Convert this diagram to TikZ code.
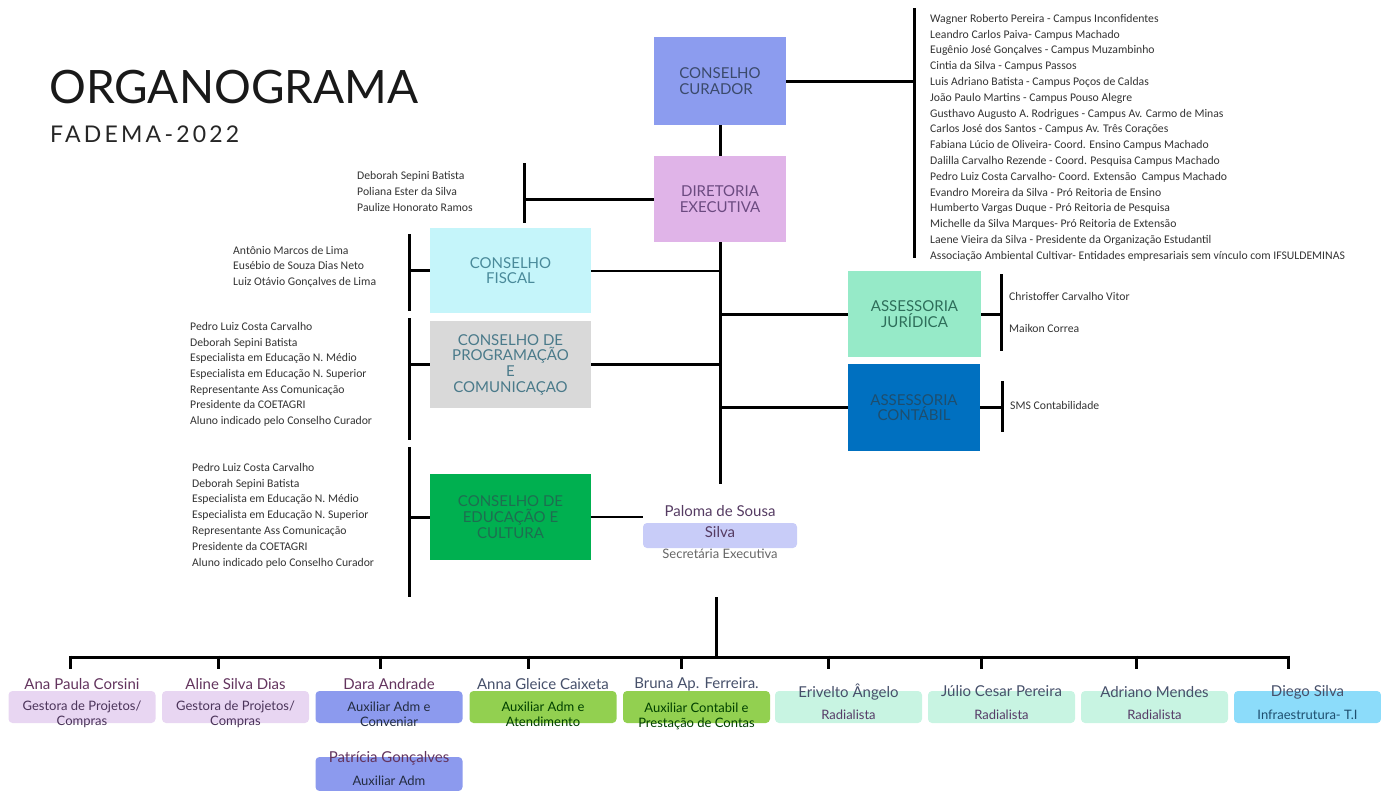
\documentclass[tikz,border=0pt]{standalone}
\usepackage{fontspec}
\setmainfont{Carlito}
\newfontfamily\boxfont{Lato}
\newfontfamily\yearfont[LetterSpace=14]{Lato}
\usepackage{xcolor}
\usetikzlibrary{positioning,calc}

\definecolor{curadorfill}{HTML}{8C9CEF}
\definecolor{curadortext}{HTML}{3B4A6B}
\definecolor{diretoriafill}{HTML}{E0B4E8}
\definecolor{diretoriatext}{HTML}{6B4A80}
\definecolor{fiscalfill}{HTML}{C5F5FA}
\definecolor{fiscaltext}{HTML}{4A8A9A}
\definecolor{progfill}{HTML}{D9D9D9}
\definecolor{progtext}{HTML}{4A7A8A}
\definecolor{edufill}{HTML}{00B050}
\definecolor{edutext}{HTML}{1E6E50}
\definecolor{jurfill}{HTML}{96EAC8}
\definecolor{jurtext}{HTML}{2E6E5A}
\definecolor{contfill}{HTML}{0070C0}
\definecolor{conttext}{HTML}{1E4E6E}
\definecolor{secfill}{HTML}{C8CCF8}
\definecolor{gestfill}{HTML}{E8D6F2}
\definecolor{auxfill}{HTML}{8C9AEE}
\definecolor{greenfill}{HTML}{92D050}
\definecolor{radfill}{HTML}{C8F4E2}
\definecolor{tifill}{HTML}{8CDCFA}
\definecolor{listgray}{HTML}{333333}
\definecolor{namegray}{HTML}{46506A}

\begin{document}
\begin{tikzpicture}[x=1pt, y=-1pt,
    unit/.style={minimum width=132pt, minimum height=86pt, inner sep=2pt, align=center,
        font=\boxfont\fontsize{15}{15.7}\selectfont},
    link/.style={line width=3pt},
    thinlink/.style={line width=2pt},
    members/.style={anchor=north west, inner sep=0pt, align=left, text=listgray,
        font=\fontsize{11.7}{15.8}\selectfont},
    card/.style={rounded corners=4pt, minimum width=147pt, minimum height=32pt, inner sep=0pt},
    pname/.style={inner sep=0pt, text=namegray, font=\boxfont\fontsize{15}{16}\selectfont},
    prole/.style={inner sep=0pt, align=center, font=\boxfont\fontsize{13}{15}\selectfont}]
    \useasboundingbox (0,0) rectangle (1381,790);

    % Title
    \node[anchor=west, inner sep=0pt, text=black!90, font=\boxfont\fontsize{46}{46}\selectfont] (title) at (49,87) {ORGANOGRAMA};
    \node[anchor=west, inner sep=0pt, text=black!85, font=\yearfont\fontsize{23}{23}\selectfont] (year) at (50,134) {FADEMA-2022};

    % Main boxes
    \node[unit, fill=curadorfill, text=curadortext, minimum height=88pt, align=left] (cur) at (720,81) {CONSELHO\\CURADOR};
    \node[unit, fill=diretoriafill, text=diretoriatext] (dir) at (720,199) {DIRETORIA\\EXECUTIVA};
    \node[unit, fill=fiscalfill, text=fiscaltext, minimum width=161pt, minimum height=85pt] (fis) at (510.5,270.5) {CONSELHO\\FISCAL};
    \node[unit, fill=progfill, text=progtext, minimum width=161pt, minimum height=87pt] (prog) at (510.5,364.5) {CONSELHO DE\\PROGRAMAÇÃO\\E\\COMUNICAÇAO};
    \node[unit, fill=edufill, text=edutext, minimum width=161pt] (edu) at (510.5,517) {CONSELHO DE\\EDUCAÇÃO E\\CULTURA};
    \node[unit, fill=jurfill, text=jurtext, minimum width=133pt] (jur) at (914.5,314) {ASSESSORIA\\JURÍDICA};
    \node[unit, fill=contfill, text=conttext, minimum height=87pt] (cont) at (914,407.5) {ASSESSORIA\\CONTÁBIL};

    % Conselho Curador members
    \node[members] (curlist) at (930,14) {Wagner Roberto Pereira - Campus Inconfidentes\\
        Leandro Carlos Paiva- Campus Machado\\
        Eugênio José Gonçalves - Campus Muzambinho\\
        Cintia da Silva - Campus Passos\\
        Luis Adriano Batista - Campus Poços de Caldas\\
        João Paulo Martins - Campus Pouso Alegre\\
        Gusthavo Augusto A. Rodrigues - Campus Av. Carmo de Minas\\
        Carlos José dos Santos - Campus Av. Três Corações\\
        Fabiana Lúcio de Oliveira- Coord. Ensino Campus Machado\\
        Dalilla Carvalho Rezende - Coord. Pesquisa Campus Machado\\
        Pedro Luiz Costa Carvalho- Coord. Extensão\ \ Campus Machado\\
        Evandro Moreira da Silva - Pró Reitoria de Ensino\\
        Humberto Vargas Duque - Pró Reitoria de Pesquisa\\
        Michelle da Silva Marques- Pró Reitoria de Extensão\\
        Laene Vieira da Silva - Presidente da Organização Estudantil\\
        Associação Ambiental Cultivar- Entidades empresariais sem vínculo com IFSULDEMINAS};
    \coordinate (curtop) at (914,8);
    \coordinate (curbot) at (914,258);
    \draw[link] (curtop) -- (curbot);
    \draw[link] (cur.east) -- (cur.east -| curtop);

    % Diretoria members
    \node[members, font=\fontsize{11.7}{16}\selectfont] (dirlist) at (357,171) {Deborah Sepini Batista\\Poliana Ester da Silva\\Paulize Honorato Ramos};
    \coordinate (dirtop) at (524,163);
    \coordinate (dirbot) at (524,223);
    \draw[link] (dirtop) -- (dirbot);
    \draw[link] (dir.west) -- (dir.west -| dirtop);
    \draw[link] (cur.south) -- (dir.north);

    % Conselho Fiscal members
    \node[members, font=\fontsize{11.7}{15.5}\selectfont] (fislist) at (233,246) {Antônio Marcos de Lima\\Eusébio de Souza Dias Neto\\Luiz Otávio Gonçalves de Lima};
    \coordinate (fistop) at (409,234);
    \coordinate (fisbot) at (409,311);
    \draw[link] (fistop) -- (fisbot);
    \draw[link] (fis.west) -- (fis.west -| fistop);

    % Programacao members
    \node[members, font=\fontsize{11.7}{15.7}\selectfont] (proglist) at (190,322) {Pedro Luiz Costa Carvalho\\Deborah Sepini Batista\\Especialista em Educação N. Médio\\Especialista em Educação N. Superior\\Representante Ass Comunicação\\Presidente da COETAGRI\\Aluno indicado pelo Conselho Curador};
    \coordinate (progtop) at (409,318);
    \coordinate (progbot) at (409,440);
    \draw[link] (progtop) -- (progbot);
    \draw[link] (prog.west) -- (prog.west -| progtop);

    % Educacao members
    \node[members, font=\fontsize{11.7}{15.8}\selectfont] (edulist) at (192,463) {Pedro Luiz Costa Carvalho\\Deborah Sepini Batista\\Especialista em Educação N. Médio\\Especialista em Educação N. Superior\\Representante Ass Comunicação\\Presidente da COETAGRI\\Aluno indicado pelo Conselho Curador};
    \coordinate (edutop) at (409,447);
    \coordinate (edubot) at (409,597);
    \draw[link] (edutop) -- (edubot);
    \draw[link] (edu.west) -- (edu.west -| edutop);

    % Assessorias
    \node[members, anchor=west] (jur1) at (1009,296) {Christoffer Carvalho Vitor};
    \node[members, anchor=west] (jur2) at (1009,328) {Maikon Correa};
    \coordinate (jurtop) at (1001,274);
    \coordinate (jurbot) at (1001,351);
    \draw[link] (jurtop) -- (jurbot);
    \draw[link] (jur.east) -- (jur.east -| jurtop);
    \node[members, anchor=west] (cont1) at (1010,405) {SMS Contabilidade};
    \coordinate (conttop) at (1002,381);
    \coordinate (contbot) at (1002,432);
    \draw[link] (conttop) -- (contbot);
    \draw[link] (cont.east) -- (cont.east -| conttop);

    % Secretaria executiva
    \node[card, fill=secfill, minimum width=154pt, minimum height=25pt] (sec) at (720,535.5) {};
    \node[pname, align=center, text=curadortext!80!purple, font=\boxfont\fontsize{15}{21}\selectfont] (secname) at (720,521.5) {Paloma de Sousa\\Silva};
    \node[prole, text=black!60] (secrole) at (720,554) {Secretária Executiva};

    % Trunk from the diretoria
    \coordinate (trunkend) at (720,484);
    \draw[link] (dir.south) -- (trunkend);
    \draw[thinlink] (fis.east) -- (fis.east -| trunkend);
    \draw[link] (prog.east) -- (prog.east -| trunkend);
    \draw[link] (jur.west -| trunkend) -- (jur.west);
    \draw[link] (cont.west -| trunkend) -- (cont.west);
    \draw[thinlink] (edu.east) -- (edu.east -| sec.west);

    % Bottom bar
    \coordinate (secdown) at (716,597);
    \coordinate (barL) at (70,657);
    \coordinate (barR) at (1288,657);
    \draw[link] (secdown) -- (secdown |- barL);
    \draw[link] (barL) -- (barR);
    \foreach \x in {70,218,380,528,681,828,981,1136,1288}
        \draw[link] (\x,655.5) -- (\x,669);

    % Team
    \node[card, fill=gestfill] (ana) at (82,707) {};
    \node[pname, text=curadortext!70!purple] (ananame) at (82,684) {Ana Paula Corsini};
    \node[prole, text=diretoriatext!70!black] at (82,714.5) {Gestora de Projetos/\\Compras};

    \node[card, fill=gestfill] (aline) at (235.5,707) {};
    \node[pname, text=curadortext!70!purple] (alinename) at (235.5,684) {Aline Silva Dias};
    \node[prole, text=diretoriatext!70!black] at (235.5,714.5) {Gestora de Projetos/\\Compras};

    \node[card, fill=auxfill] (dara) at (389,707) {};
    \node[pname, text=curadortext!70!purple] (daraname) at (389,684) {Dara Andrade};
    \node[prole, text=curadortext!60!black] at (389,714.5) {Auxiliar Adm e\\Conveniar};

    \node[card, fill=auxfill, minimum height=34pt] (patricia) at (389,774) {};
    \node[pname, text=curadortext!70!purple] (patname) at (389,758) {Patrícia Gonçalves};
    \node[prole, text=curadortext!60!black] at (389,781) {Auxiliar Adm};

    \node[card, fill=greenfill] (anna) at (543,707) {};
    \node[pname] (annaname) at (543,684) {Anna Gleice Caixeta};
    \node[prole, text=black!75!green] at (543,714.5) {Auxiliar Adm e\\Atendimento};

    \node[card, fill=greenfill] (bruna) at (696.5,707) {};
    \node[pname] (brunaname) at (696.5,684) {Bruna Ap. Ferreira.};
    \node[prole, text=black!75!green] at (696.5,716.5) {Auxiliar Contabil e\\Prestação de Contas};

    \node[card, fill=radfill] (eri) at (848.5,707) {};
    \node[pname] (eriname) at (848.5,692) {Erivelto Ângelo};
    \node[prole, text=diretoriatext!80!black] at (848.5,715) {Radialista};

    \node[card, fill=radfill] (julio) at (1001.5,707) {};
    \node[pname] (julioname) at (1001.5,691) {Júlio Cesar Pereira};
    \node[prole, text=diretoriatext!80!black] at (1001.5,715) {Radialista};

    \node[card, fill=radfill] (adri) at (1154.5,707) {};
    \node[pname] (adriname) at (1154.5,692) {Adriano Mendes};
    \node[prole, text=diretoriatext!80!black] at (1154.5,715) {Radialista};

    \node[card, fill=tifill] (diego) at (1307.5,707) {};
    \node[pname] (diegoname) at (1307.5,692) {Diego Silva};
    \node[prole, text=conttext] at (1307.5,715) {Infraestrutura- T.I};
\end{tikzpicture}
\end{document}
